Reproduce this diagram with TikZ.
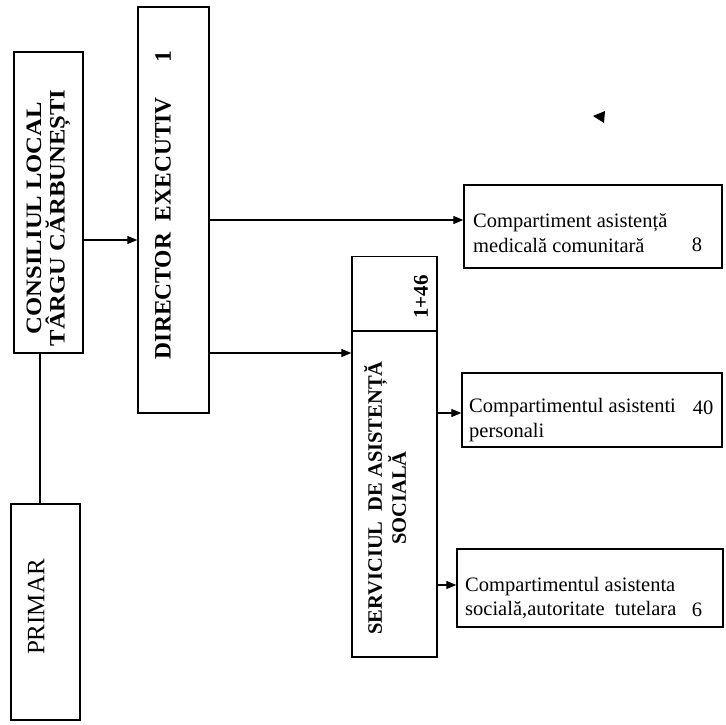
\documentclass[tikz,border=0pt]{standalone}
\usepackage{fontspec}
\setmainfont{Liberation Serif}
\usetikzlibrary{arrows.meta}
\begin{document}
\begin{tikzpicture}[x=1pt,y=-1pt,
  box/.style={draw, line width=1.4pt, inner sep=0pt},
  arr/.style={-{Triangle[length=10pt,width=8pt]}, line width=1.2pt},
  conn/.style={line width=1.2pt},
  vbold/.style={rotate=90, font=\fontsize{25}{25}\selectfont\bfseries, align=center, inner sep=0pt},
  htext/.style={anchor=west, align=left, font=\fontsize{20.5}{24.5}\selectfont, inner sep=0pt},
  num/.style={font=\fontsize{20.5}{24}\selectfont, inner sep=0pt},
]
\useasboundingbox (0,0) rectangle (725,725);
% boxes
\node[box, minimum width=69pt, minimum height=301pt] (cons) at (48.5,202.5) {};
\node[box, minimum width=69pt, minimum height=216pt] (primar) at (45.5,612) {};
\node[box, minimum width=71pt, minimum height=406pt] (dir) at (173.5,210) {};
\node[box, minimum width=85pt, minimum height=75pt] (servtop) at (394.5,294) {};
\node[box, minimum width=85pt, minimum height=326pt] (serv) at (394.5,494) {};
\node[box, minimum width=258pt, minimum height=83pt] (med) at (593,226.5) {};
\node[box, minimum width=260pt, minimum height=74pt] (pers) at (592,410) {};
\node[box, minimum width=266pt, minimum height=78pt] (tut) at (590,588) {};
% texts
\node[vbold, font=\fontsize{22}{23.5}\selectfont\bfseries] (constxt) at (48.5,218) {\scalebox{1.12}[1]{CONSILIUL LOCAL}\\\scalebox{1.12}[1]{TÂRGU CĂRBUNEȘTI}};
\node[vbold, font=\fontsize{23.5}{25}\selectfont\bfseries] (dirtxt) at (163,228) {DIRECTOR\ \ EXECUTIV};
\node[vbold, font=\fontsize{23.5}{25}\selectfont\bfseries] (dirnum) at (163,57) {1};
\node[vbold, font=\fontsize{21}{23}\selectfont\bfseries] (servnum) at (421,297) {1+46};
\node[vbold, font=\fontsize{20.5}{24}\selectfont\bfseries] (servtxt) at (385,498) {SERVICIUL\ \ DE ASISTENȚĂ\\SOCIALĂ};
\node[rotate=90, font=\fontsize{25}{28}\selectfont, inner sep=0pt] (primtxt) at (36,607) {PRIMAR};
\node[htext] (medtxt) at (473,233) {Compartiment asistență\\medicală comunitară};
\node[num] (medn) at (697,245) {8};
\node[htext] (perstxt) at (469,420) {Compartimentul asistenti\\personali};
\node[num] (persn) at (703,408) {40};
\node[htext] (tuttxt) at (465,598) {Compartimentul asistenta\\socială,autoritate\ \ tutelara};
\node[num] (tutn) at (697,610) {6};
% connector levels
\coordinate (c40) at (40,0);
\coordinate (y240) at (0,240);
\coordinate (y220) at (0,220);
\coordinate (y353) at (0,353);
\coordinate (y413) at (0,413);
\coordinate (y585) at (0,585);
\draw[conn] (cons.south -| c40) -- (primar.north -| c40);
\draw[arr] (cons.east |- y240) -- (dir.west |- y240);
\draw[arr] (dir.east |- y220) -- (med.west |- y220);
\draw[arr] (dir.east |- y353) -- (serv.west |- y353);
\draw[arr] (serv.east |- y413) -- (pers.west |- y413);
\draw[arr] (serv.east |- y585) -- (tut.west |- y585);
% stray arrowhead
\fill (593,116) -- (605,111) -- (604,123) -- cycle;
\end{tikzpicture}
\end{document}
